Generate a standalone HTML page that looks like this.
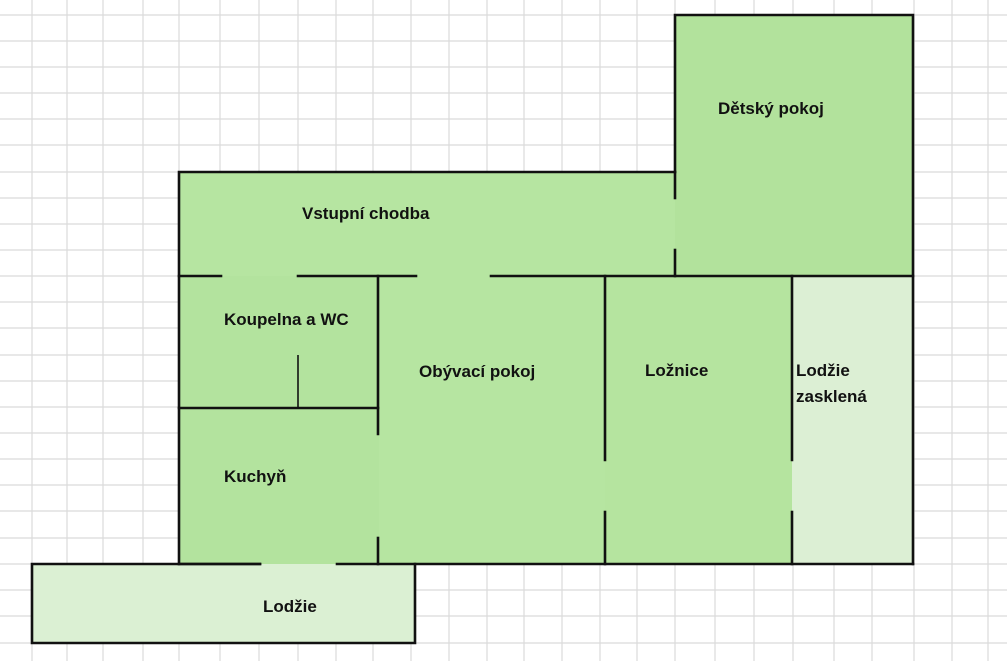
<!DOCTYPE html>
<html><head><meta charset="utf-8"><style>
html,body{margin:0;padding:0;background:#fff;}
svg{display:block;}
text{font-family:"Liberation Sans","DejaVu Sans",sans-serif;font-weight:bold;font-size:17px;fill:#111;}
</style></head><body>
<svg width="1007" height="661" viewBox="0 0 1007 661" xmlns="http://www.w3.org/2000/svg">
<g stroke="#dadada" stroke-width="1.2">
<line x1="32" y1="0" x2="32" y2="661"/><line x1="67" y1="0" x2="67" y2="661"/><line x1="103" y1="0" x2="103" y2="661"/><line x1="143" y1="0" x2="143" y2="661"/><line x1="179" y1="0" x2="179" y2="661"/><line x1="220" y1="0" x2="220" y2="661"/><line x1="259" y1="0" x2="259" y2="661"/><line x1="298" y1="0" x2="298" y2="661"/><line x1="336" y1="0" x2="336" y2="661"/><line x1="373" y1="0" x2="373" y2="661"/><line x1="411" y1="0" x2="411" y2="661"/><line x1="449" y1="0" x2="449" y2="661"/><line x1="487" y1="0" x2="487" y2="661"/><line x1="524" y1="0" x2="524" y2="661"/><line x1="562" y1="0" x2="562" y2="661"/><line x1="600" y1="0" x2="600" y2="661"/><line x1="637" y1="0" x2="637" y2="661"/><line x1="675" y1="0" x2="675" y2="661"/><line x1="715" y1="0" x2="715" y2="661"/><line x1="754" y1="0" x2="754" y2="661"/><line x1="793" y1="0" x2="793" y2="661"/><line x1="834" y1="0" x2="834" y2="661"/><line x1="872" y1="0" x2="872" y2="661"/><line x1="914" y1="0" x2="914" y2="661"/><line x1="952" y1="0" x2="952" y2="661"/><line x1="988" y1="0" x2="988" y2="661"/>
<line x1="0" y1="15" x2="1007" y2="15"/><line x1="0" y1="41" x2="1007" y2="41"/><line x1="0" y1="67" x2="1007" y2="67"/><line x1="0" y1="93" x2="1007" y2="93"/><line x1="0" y1="119" x2="1007" y2="119"/><line x1="0" y1="145" x2="1007" y2="145"/><line x1="0" y1="172" x2="1007" y2="172"/><line x1="0" y1="198" x2="1007" y2="198"/><line x1="0" y1="224" x2="1007" y2="224"/><line x1="0" y1="250" x2="1007" y2="250"/><line x1="0" y1="276" x2="1007" y2="276"/><line x1="0" y1="302" x2="1007" y2="302"/><line x1="0" y1="328" x2="1007" y2="328"/><line x1="0" y1="355" x2="1007" y2="355"/><line x1="0" y1="381" x2="1007" y2="381"/><line x1="0" y1="407" x2="1007" y2="407"/><line x1="0" y1="433" x2="1007" y2="433"/><line x1="0" y1="459" x2="1007" y2="459"/><line x1="0" y1="485" x2="1007" y2="485"/><line x1="0" y1="511" x2="1007" y2="511"/><line x1="0" y1="538" x2="1007" y2="538"/><line x1="0" y1="564" x2="1007" y2="564"/><line x1="0" y1="590" x2="1007" y2="590"/><line x1="0" y1="616" x2="1007" y2="616"/><line x1="0" y1="643" x2="1007" y2="643"/>
</g>
<rect x="179" y="172" width="496" height="392" fill="#b6e5a1"/>
<rect x="675" y="15" width="238" height="261" fill="#b2e29c"/>
<rect x="179" y="276" width="200" height="288" fill="#b3e39e"/>
<rect x="605" y="276" width="187" height="288" fill="#b5e49f"/>
<rect x="792" y="276" width="121" height="288" fill="#dcefd4"/>
<rect x="32" y="564" width="383" height="79" fill="#dbf0d3"/>
<g stroke="#111" stroke-width="2.6" fill="none" stroke-linecap="square">
<polyline points="179,564 179,172 675,172"/>
<polyline points="675,172 675,15 913,15 913,564"/>
<line x1="675" y1="172" x2="675" y2="198"/>
<line x1="675" y1="250" x2="675" y2="276"/>
<line x1="179" y1="276" x2="221" y2="276"/>
<line x1="298" y1="276" x2="416" y2="276"/>
<line x1="491" y1="276" x2="913" y2="276"/>
<line x1="378" y1="276" x2="378" y2="434"/>
<line x1="378" y1="538" x2="378" y2="564"/>
<line x1="179" y1="408" x2="378" y2="408"/>
<line x1="605" y1="276" x2="605" y2="460"/>
<line x1="605" y1="512" x2="605" y2="564"/>
<line x1="792" y1="276" x2="792" y2="460"/>
<line x1="792" y1="512" x2="792" y2="564"/>
<line x1="179" y1="564" x2="260" y2="564"/>
<line x1="337" y1="564" x2="913" y2="564"/>
<polyline points="260,564 32,564 32,643 415,643 415,564"/>
</g>
<line x1="298" y1="355" x2="298" y2="408" stroke="#111" stroke-width="1.6"/>
<text x="302" y="219">Vstupní chodba</text>
<text x="718" y="114">Dětský pokoj</text>
<text x="224" y="325">Koupelna a WC</text>
<text x="419" y="377">Obývací pokoj</text>
<text x="645" y="376">Ložnice</text>
<text x="796" y="376">Lodžie</text>
<text x="796" y="402">zasklená</text>
<text x="224" y="482">Kuchyň</text>
<text x="263" y="612">Lodžie</text>
</svg>
</body></html>
